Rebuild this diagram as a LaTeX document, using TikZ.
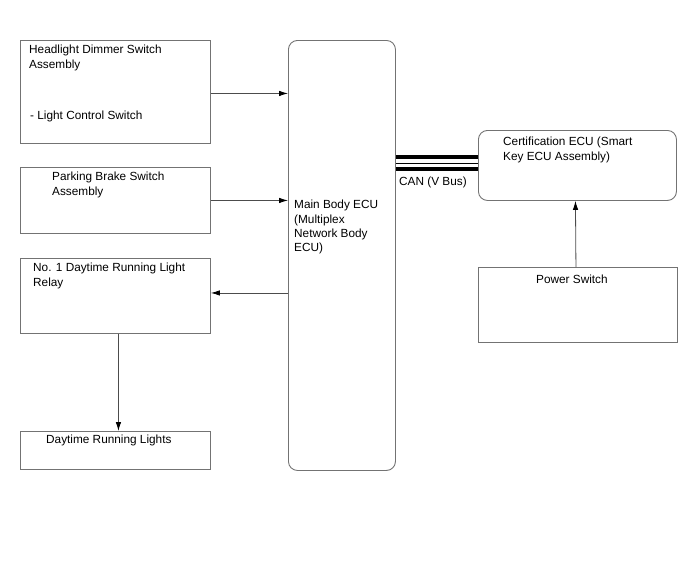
\documentclass[tikz,border=0pt]{standalone}
\usepackage{fontspec}
\setmainfont{Liberation Sans}
\usetikzlibrary{arrows.meta,calc}

\tikzset{
  box/.style={draw=gray!90!black, line width=0.9pt, inner sep=0pt, anchor=north west},
  rbox/.style={box, rounded corners=9pt},
  txt/.style={anchor=north west, inner sep=0pt, align=left, font=\fontsize{11.8}{14.3}\selectfont},
  arr/.style={-{Latex[length=9pt,width=5.5pt,black]}, line width=0.8pt, draw=gray!60!black},
  bus/.style={black}
}

\begin{document}
\begin{tikzpicture}[x=1pt, y=-1pt]
    \useasboundingbox (0,0) rectangle (688,560);

    % 左侧方框
    \node[box, minimum width=190pt, minimum height=103pt] (hds) at (20,40) {};
    \node[box, minimum width=190pt, minimum height=66pt] (pbs) at (20,167) {};
    \node[box, minimum width=190pt, minimum height=75pt] (relay) at (20,258) {};
    \node[box, minimum width=190pt, minimum height=38pt] (drl) at (20,431) {};

    % 主车身 ECU
    \node[rbox, minimum width=107pt, minimum height=430pt] (ecu) at (288,40) {};

    % 右侧方框
    \node[rbox, minimum width=198pt, minimum height=70pt] (cert) at (478,130) {};
    \node[box, minimum width=199pt, minimum height=75pt] (pwr) at (478,267) {};

    % 文字
    \node[txt] (hdsText) at (29,45) {Headlight Dimmer Switch\\Assembly};
    \node[txt] (lcsText) at (30,111) {- Light Control Switch};
    \node[txt] (pbsText) at (52,172) {Parking Brake Switch\\Assembly};
    \node[txt] (relayText) at (33,263) {No. 1 Daytime Running Light\\Relay};
    \node[txt] (drlText) at (46,435) {Daytime Running Lights};
    \node[txt] (ecuText) at (294,200) {Main Body ECU\\(Multiplex\\Network Body\\ECU)};
    \node[txt] (certText) at (503,137) {Certification ECU (Smart\\Key ECU Assembly)};
    \node[txt] (pwrText) at (536,275) {Power Switch};
    \node[txt] (canText) at (399,177) {CAN (V Bus)};

    % 箭头
    \draw[arr] ([yshift=-1.5pt]hds.east) -- ([yshift=-1.5pt]hds.east -| ecu.west);
    \draw[arr] (pbs.east) -- (pbs.east -| ecu.west);
    \draw[arr] ([yshift=3pt]relay.east -| ecu.west) -- ([yshift=3pt]relay.east);
    \draw[arr] ([xshift=3pt]relay.south) -- ([xshift=3pt]drl.north);
    \draw[arr] ([xshift=-2pt]pwr.north) -- ([xshift=-2pt]cert.south);

    % CAN 总线
    \foreach \d/\w in {8/4, 2/1.5, -3.7/4}
        \draw[bus, line width=\w pt] ([yshift=\d pt]ecu.east |- cert.west) -- ([yshift=\d pt]cert.west);
\end{tikzpicture}
\end{document}
